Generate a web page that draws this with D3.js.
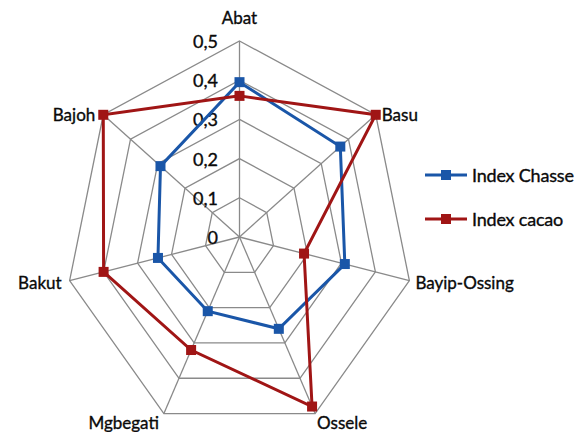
<!DOCTYPE html>
<html>
<head>
<meta charset="utf-8">
<script src="https://cdn.jsdelivr.net/npm/d3@7"></script>
<style>
  body { margin: 0; background: #fff; }
  text { font-family: Lato, "Open Sans", sans-serif; fill: #0a0a0a; stroke: #0a0a0a; stroke-width: 0.35px; }
</style>
</head>
<body>
<div id="vis"></div>
<script>
const axes = ["Abat", "Basu", "Bayip-Ossing", "Ossele", "Mgbegati", "Bakut", "Bajoh"];
const chasse = [0.395, 0.37, 0.31, 0.26, 0.21, 0.24, 0.29];
const cacao = [0.36, 0.5, 0.19, 0.48, 0.32, 0.40, 0.5];
const ticks = [0, 0.1, 0.2, 0.3, 0.4, 0.5];
const tickLabels = ["0", "0,1", "0,2", "0,3", "0,4", "0,5"];
const seriesNames = ["Index Chasse", "Index cacao"];
const seriesColors = ["#1a56a8", "#a01515"];

const width = 588, height = 432;
const cx = 239.5, cy = 237;
const sx = 0.889; // picture is a bit narrower than tall

const svg = d3.select("#vis")
    .append("svg")
    .attr("width", width)
    .attr("height", height);

const r = d3.scaleLinear().domain([0, 0.5]).range([0, 196]);
const angle = d3.scaleLinear().domain([0, axes.length]).range([0, 2 * Math.PI]);

function pt(i, v) {
    const a = angle(i);
    return [cx + Math.sin(a) * r(v) * sx, cy - Math.cos(a) * r(v)];
}

const grid = svg.append("g").attr("class", "grid");

// rings
ticks.slice(1).forEach(function (t) {
    grid.append("path")
        .attr("d", d3.line()(axes.map((d, i) => pt(i, t))) + "Z")
        .attr("fill", "none")
        .attr("stroke", "#8a8a8a")
        .attr("stroke-width", 1.3);
});

// spokes
axes.forEach(function (d, i) {
    const p = pt(i, 0.5);
    grid.append("line")
        .attr("x1", cx).attr("y1", cy)
        .attr("x2", p[0]).attr("y2", p[1])
        .attr("stroke", "#8a8a8a")
        .attr("stroke-width", 1.3);
});

// tick labels
svg.selectAll(".tick")
    .data(ticks)
    .enter()
    .append("text")
    .attr("x", 218)
    .attr("y", d => cy - r(d))
    .attr("text-anchor", "end")
    .attr("dominant-baseline", "central")
    .attr("font-size", 18)
    .text((d, i) => tickLabels[i]);

// axis labels
const labelPos = [
    { dx: 0, dy: -24, anchor: "middle" },
    { dx: 6, dy: 0, anchor: "start" },
    { dx: 6, dy: 2, anchor: "start" },
    { dx: 2, dy: 9, anchor: "start" },
    { dx: -5, dy: 9, anchor: "end" },
    { dx: -8, dy: 2, anchor: "end" },
    { dx: -8, dy: 0, anchor: "end" }
];
svg.selectAll(".axisLabel")
    .data(axes)
    .enter()
    .append("text")
    .attr("x", (d, i) => pt(i, 0.5)[0] + labelPos[i].dx)
    .attr("y", (d, i) => pt(i, 0.5)[1] + labelPos[i].dy)
    .attr("text-anchor", (d, i) => labelPos[i].anchor)
    .attr("dominant-baseline", "central")
    .attr("font-size", 17)
    .text(d => d);

// series
[chasse, cacao].forEach(function (vals, s) {
    const g = svg.append("g");
    g.append("path")
        .attr("d", d3.line()(vals.map((v, i) => pt(i, v))) + "Z")
        .attr("fill", "none")
        .attr("stroke", seriesColors[s])
        .attr("stroke-width", 3);
    g.selectAll("rect")
        .data(vals)
        .enter()
        .append("rect")
        .attr("x", (v, i) => pt(i, v)[0] - 5)
        .attr("y", (v, i) => pt(i, v)[1] - 5)
        .attr("width", 10)
        .attr("height", 10)
        .attr("fill", seriesColors[s]);
});

// legend
seriesNames.forEach(function (name, s) {
    const y = 175 + s * 44;
    svg.append("line")
        .attr("x1", 425).attr("x2", 467)
        .attr("y1", y).attr("y2", y)
        .attr("stroke", seriesColors[s])
        .attr("stroke-width", 3);
    svg.append("rect")
        .attr("x", 441).attr("y", y - 5)
        .attr("width", 10).attr("height", 10)
        .attr("fill", seriesColors[s]);
    svg.append("text")
        .attr("x", 472)
        .attr("y", y)
        .attr("dominant-baseline", "central")
        .attr("font-size", 18)
        .attr("letter-spacing", -0.2)
        .text(name);
});
</script>
</body>
</html>
